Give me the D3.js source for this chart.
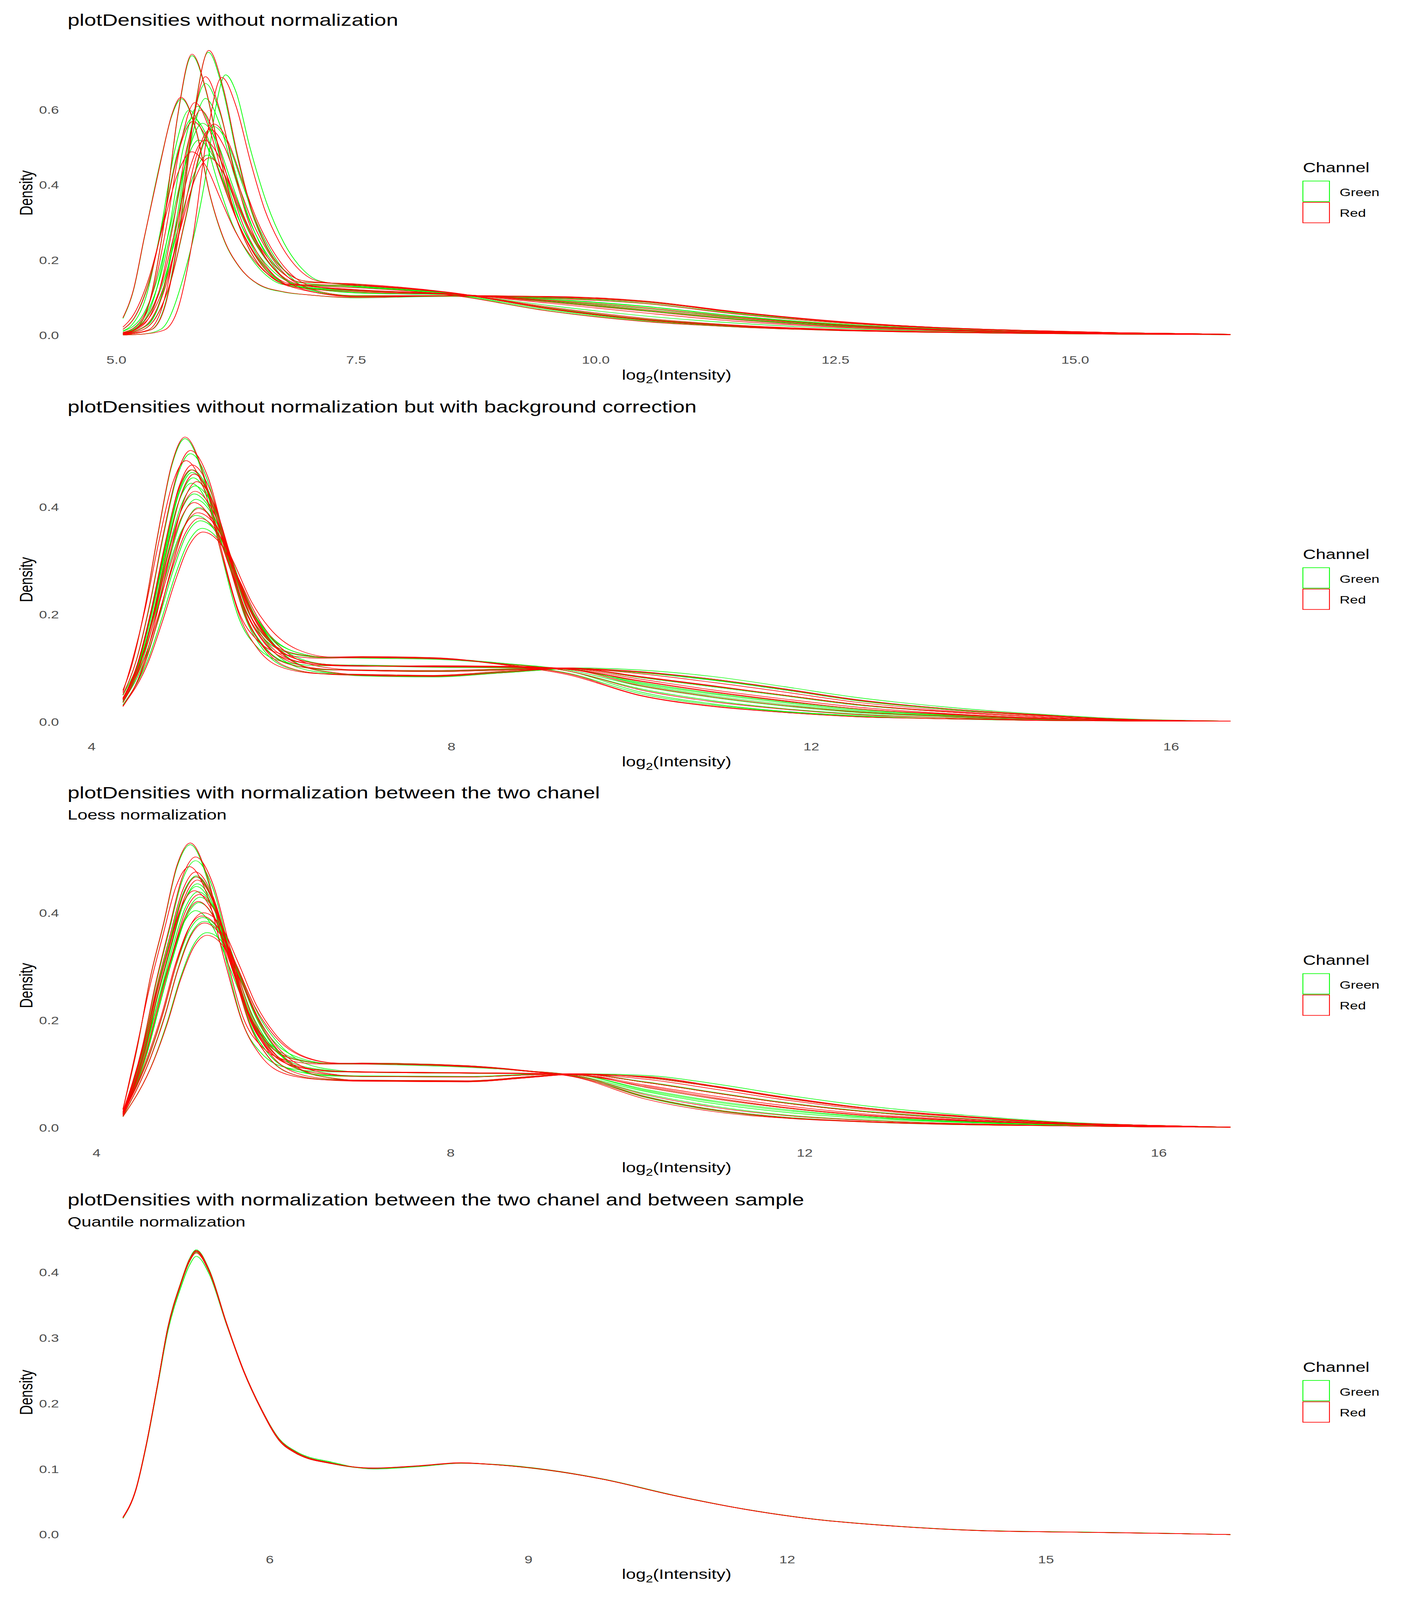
<!DOCTYPE html>
<html>
<head>
<meta charset="utf-8">
<script src="https://cdn.jsdelivr.net/npm/d3@7"></script>
<style>
  html, body { margin: 0; padding: 0; width: 100%; height: 100%; overflow: hidden; background: #fff; }
  #chart { display: block; width: 100vw; height: 100vh; }
  text { font-family: "Liberation Sans", Arial, sans-serif; }
</style>
</head>
<body>
<svg id="chart"></svg>
<script>
// ---- data: each curve is a list of [log2 intensity, density] ----

const channels = ["Green", "Red"];
const channelColors = ["#00FF00", "#FF0000"];

const titles = [
  "plotDensities without normalization",
  "plotDensities without normalization but with background correction",
  "plotDensities with normalization between the two chanel",
  "plotDensities with normalization between the two chanel and between sample"
];
const subtitles = [null, null, "Loess normalization", "Quantile normalization"];

const xTicks = [[5.0, 7.5, 10.0, 12.5, 15.0], [4, 8, 12, 16], [4, 8, 12, 16], [6, 9, 12, 15]];
const yTicks = [[0, 0.2, 0.4, 0.6], [0, 0.2, 0.4], [0, 0.2, 0.4], [0, 0.1, 0.2, 0.3, 0.4]];
const xTickFormats = [".1f", "d", "d", "d"];

// panel 1 : raw
const p1Green = [
  [[5.07,0.002],[5.36,0.015],[5.51,0.083],[5.66,0.287],[5.81,0.588],[5.96,0.754],[6.11,0.656],[6.26,0.478],[6.41,0.330],[6.56,0.238],[6.76,0.171],[6.96,0.145],[7.5,0.135],[8.5,0.112],[9.5,0.072],[10.5,0.042],[11.5,0.025],[12.5,0.015],[13.5,0.009],[14.5,0.006],[15.5,0.004],[16.62,0.002]],
  [[5.07,0.004],[5.19,0.015],[5.34,0.082],[5.49,0.283],[5.64,0.581],[5.79,0.745],[5.94,0.647],[6.09,0.468],[6.24,0.321],[6.39,0.228],[6.59,0.161],[6.79,0.135],[7.5,0.128],[8.5,0.108],[9.5,0.066],[10.5,0.038],[11.5,0.022],[12.5,0.013],[13.5,0.008],[14.5,0.005],[15.5,0.003],[16.62,0.002]],
  [[5.07,0.001],[5.3,0.004],[5.47,0.017],[5.72,0.173],[5.94,0.435],[6.04,0.61],[6.14,0.694],[6.25,0.648],[6.39,0.505],[6.57,0.352],[6.75,0.246],[6.94,0.177],[7.12,0.145],[7.5,0.132],[8.5,0.112],[9.5,0.074],[10.5,0.044],[11.5,0.026],[12.5,0.015],[13.5,0.009],[14.5,0.006],[15.5,0.004],[16.62,0.002]],
  [[5.07,0.004],[5.33,0.030],[5.48,0.114],[5.63,0.309],[5.78,0.550],[5.93,0.671],[6.08,0.594],[6.23,0.445],[6.38,0.316],[6.53,0.230],[6.73,0.157],[6.93,0.126],[7.5,0.118],[8.5,0.110],[9.5,0.090],[10.5,0.066],[11.5,0.042],[12.5,0.025],[13.5,0.015],[14.5,0.009],[15.5,0.005],[16.62,0.002]],
  [[5.07,0.045],[5.18,0.12],[5.29,0.256],[5.47,0.473],[5.58,0.585],[5.68,0.630],[5.83,0.547],[5.98,0.37],[6.13,0.25],[6.28,0.183],[6.48,0.136],[6.75,0.115],[7.0,0.108],[7.5,0.100],[8.5,0.104],[9.5,0.100],[10.5,0.086],[11.5,0.057],[12.5,0.034],[13.5,0.020],[14.5,0.012],[15.5,0.007],[16.62,0.003]],
  [[5.07,0.004],[5.33,0.028],[5.48,0.107],[5.63,0.290],[5.78,0.517],[5.93,0.631],[6.08,0.562],[6.23,0.428],[6.38,0.311],[6.53,0.234],[6.73,0.168],[6.93,0.140],[7.5,0.130],[8.5,0.111],[9.5,0.080],[10.5,0.052],[11.5,0.032],[12.5,0.019],[13.5,0.012],[14.5,0.007],[15.5,0.004],[16.62,0.002]],
  [[5.07,0.016],[5.20,0.052],[5.35,0.151],[5.50,0.318],[5.65,0.498],[5.80,0.579],[5.95,0.529],[6.10,0.418],[6.25,0.313],[6.40,0.235],[6.60,0.166],[6.80,0.134],[7.5,0.120],[8.5,0.109],[9.5,0.093],[10.5,0.072],[11.5,0.047],[12.5,0.028],[13.5,0.016],[14.5,0.009],[15.5,0.005],[16.62,0.002]],
  [[5.07,0.004],[5.27,0.014],[5.42,0.050],[5.57,0.145],[5.72,0.306],[5.87,0.478],[6.02,0.556],[6.17,0.507],[6.32,0.400],[6.47,0.297],[6.62,0.222],[6.82,0.155],[7.02,0.123],[7.5,0.106],[8.5,0.106],[9.5,0.103],[10.5,0.090],[11.5,0.059],[12.5,0.036],[13.5,0.021],[14.5,0.012],[15.5,0.007],[16.62,0.003]],
  [[5.07,0.011],[5.26,0.047],[5.41,0.135],[5.56,0.286],[5.71,0.447],[5.86,0.520],[6.01,0.477],[6.16,0.382],[6.31,0.291],[6.46,0.224],[6.66,0.165],[6.86,0.137],[7.5,0.113],[8.5,0.108],[9.5,0.097],[10.5,0.078],[11.5,0.051],[12.5,0.031],[13.5,0.018],[14.5,0.010],[15.5,0.006],[16.62,0.002]],
  [[5.07,0.006],[5.20,0.019],[5.35,0.058],[5.50,0.149],[5.65,0.288],[5.80,0.422],[5.95,0.480],[6.10,0.440],[6.25,0.352],[6.40,0.268],[6.55,0.206],[6.75,0.152],[6.95,0.126],[7.5,0.104],[8.5,0.104],[9.5,0.101],[10.5,0.089],[11.5,0.060],[12.5,0.037],[13.5,0.022],[14.5,0.013],[15.5,0.007],[16.62,0.003]],
  [[5.07,0.007],[5.25,0.027],[5.40,0.104],[5.55,0.281],[5.70,0.500],[5.85,0.610],[6.00,0.542],[6.15,0.411],[6.30,0.297],[6.45,0.222],[6.65,0.157],[6.85,0.130],[7.5,0.119],[8.5,0.110],[9.5,0.091],[10.5,0.067],[11.5,0.043],[12.5,0.026],[13.5,0.015],[14.5,0.009],[15.5,0.005],[16.62,0.002]],
  [[5.07,0.008],[5.15,0.014],[5.30,0.051],[5.45,0.147],[5.60,0.311],[5.75,0.486],[5.90,0.565],[6.05,0.516],[6.20,0.409],[6.35,0.306],[6.50,0.230],[6.70,0.163],[6.90,0.131],[7.5,0.114],[8.5,0.108],[9.5,0.096],[10.5,0.077],[11.5,0.050],[12.5,0.030],[13.5,0.018],[14.5,0.010],[15.5,0.006],[16.62,0.002]],
  [[5.07,0.012],[5.16,0.027],[5.31,0.102],[5.46,0.276],[5.61,0.492],[5.76,0.600],[5.91,0.534],[6.06,0.407],[6.21,0.297],[6.36,0.224],[6.56,0.161],[6.76,0.135],[7.5,0.131],[8.5,0.110],[9.5,0.069],[10.5,0.040],[11.5,0.023],[12.5,0.014],[13.5,0.008],[14.5,0.005],[15.5,0.003],[16.62,0.002]]
];
const p1Red = [
  [[5.07,0.002],[5.365,0.015],[5.515,0.083],[5.665,0.288],[5.815,0.592],[5.965,0.759],[6.115,0.660],[6.265,0.480],[6.415,0.332],[6.565,0.239],[6.765,0.171],[6.965,0.145],[7.5,0.136],[8.5,0.113],[9.5,0.071],[10.5,0.041],[11.5,0.024],[12.5,0.014],[13.5,0.009],[14.5,0.006],[15.5,0.004],[16.62,0.002]],
  [[5.07,0.004],[5.19,0.015],[5.34,0.082],[5.49,0.285],[5.64,0.584],[5.79,0.749],[5.94,0.650],[6.09,0.470],[6.24,0.322],[6.39,0.229],[6.59,0.161],[6.79,0.135],[7.5,0.127],[8.5,0.107],[9.5,0.065],[10.5,0.037],[11.5,0.022],[12.5,0.013],[13.5,0.008],[14.5,0.005],[15.5,0.003],[16.62,0.002]],
  [[5.07,0.001],[5.3,0.004],[5.50,0.014],[5.65,0.076],[5.80,0.261],[5.95,0.536],[6.10,0.687],[6.25,0.610],[6.40,0.463],[6.55,0.334],[6.70,0.249],[6.90,0.177],[7.10,0.145],[7.5,0.134],[8.5,0.113],[9.5,0.076],[10.5,0.046],[11.5,0.027],[12.5,0.016],[13.5,0.010],[14.5,0.006],[15.5,0.004],[16.62,0.002]],
  [[5.07,0.003],[5.33,0.014],[5.48,0.076],[5.63,0.262],[5.78,0.537],[5.93,0.689],[6.08,0.600],[6.23,0.437],[6.38,0.303],[6.53,0.219],[6.73,0.158],[6.93,0.134],[7.5,0.121],[8.5,0.111],[9.5,0.089],[10.5,0.065],[11.5,0.041],[12.5,0.024],[13.5,0.015],[14.5,0.009],[15.5,0.005],[16.62,0.002]],
  [[5.07,0.047],[5.18,0.122],[5.29,0.258],[5.47,0.470],[5.58,0.588],[5.676,0.634],[5.83,0.550],[5.98,0.372],[6.13,0.252],[6.28,0.184],[6.48,0.137],[6.75,0.116],[7.0,0.108],[7.5,0.101],[8.5,0.105],[9.5,0.099],[10.5,0.085],[11.5,0.056],[12.5,0.034],[13.5,0.020],[14.5,0.012],[15.5,0.007],[16.62,0.003]],
  [[5.07,0.008],[5.22,0.028],[5.37,0.105],[5.52,0.285],[5.67,0.508],[5.82,0.620],[5.97,0.551],[6.12,0.417],[6.27,0.301],[6.42,0.224],[6.62,0.158],[6.82,0.130],[7.5,0.116],[8.5,0.109],[9.5,0.094],[10.5,0.074],[11.5,0.048],[12.5,0.029],[13.5,0.017],[14.5,0.010],[15.5,0.006],[16.62,0.002]],
  [[5.07,0.004],[5.27,0.014],[5.42,0.051],[5.57,0.146],[5.72,0.310],[5.87,0.484],[6.02,0.563],[6.17,0.514],[6.32,0.408],[6.47,0.306],[6.62,0.231],[6.82,0.164],[7.02,0.133],[7.5,0.119],[8.5,0.110],[9.5,0.092],[10.5,0.069],[11.5,0.045],[12.5,0.027],[13.5,0.016],[14.5,0.009],[15.5,0.005],[16.62,0.002]],
  [[5.07,0.005],[5.23,0.014],[5.38,0.049],[5.53,0.143],[5.68,0.302],[5.83,0.472],[5.98,0.549],[6.13,0.501],[6.28,0.397],[6.43,0.297],[6.58,0.224],[6.78,0.158],[6.98,0.128],[7.5,0.105],[8.5,0.106],[9.5,0.103],[10.5,0.091],[11.5,0.061],[12.5,0.037],[13.5,0.022],[14.5,0.013],[15.5,0.007],[16.62,0.003]],
  [[5.07,0.022],[5.19,0.059],[5.34,0.152],[5.49,0.293],[5.64,0.430],[5.79,0.489],[5.94,0.449],[6.09,0.362],[6.24,0.278],[6.39,0.216],[6.59,0.161],[6.79,0.136],[7.5,0.133],[8.5,0.113],[9.5,0.072],[10.5,0.043],[11.5,0.025],[12.5,0.015],[13.5,0.009],[14.5,0.006],[15.5,0.004],[16.62,0.002]],
  [[5.07,0.005],[5.22,0.019],[5.37,0.057],[5.52,0.147],[5.67,0.284],[5.82,0.416],[5.97,0.473],[6.12,0.433],[6.27,0.346],[6.42,0.262],[6.57,0.201],[6.77,0.146],[6.97,0.121],[7.5,0.103],[8.5,0.105],[9.5,0.104],[10.5,0.092],[11.5,0.062],[12.5,0.038],[13.5,0.022],[14.5,0.013],[15.5,0.007],[16.62,0.003]],
  [[5.07,0.005],[5.28,0.027],[5.43,0.102],[5.58,0.276],[5.73,0.492],[5.88,0.600],[6.03,0.533],[6.18,0.403],[6.33,0.290],[6.48,0.216],[6.68,0.152],[6.88,0.125],[7.5,0.105],[8.5,0.106],[9.5,0.102],[10.5,0.089],[11.5,0.060],[12.5,0.036],[13.5,0.021],[14.5,0.012],[15.5,0.007],[16.62,0.003]],
  [[5.07,0.016],[5.20,0.051],[5.35,0.148],[5.50,0.314],[5.65,0.490],[5.80,0.570],[5.95,0.521],[6.10,0.414],[6.25,0.312],[6.40,0.236],[6.60,0.170],[6.80,0.138],[7.5,0.122],[8.5,0.110],[9.5,0.086],[10.5,0.060],[11.5,0.037],[12.5,0.022],[13.5,0.013],[14.5,0.008],[15.5,0.005],[16.62,0.002]],
  [[5.07,0.007],[5.17,0.013],[5.32,0.047],[5.47,0.135],[5.62,0.286],[5.77,0.447],[5.92,0.520],[6.07,0.477],[6.22,0.384],[6.37,0.294],[6.52,0.228],[6.72,0.169],[6.92,0.142],[7.5,0.137],[8.5,0.114],[9.5,0.073],[10.5,0.043],[11.5,0.025],[12.5,0.015],[13.5,0.009],[14.5,0.006],[15.5,0.004],[16.62,0.002]]
];

// panel 2 : background corrected
const p2Green = [
  [[4.35,0.059],[4.44,0.101],[4.59,0.209],[4.74,0.350],[4.89,0.476],[5.04,0.528],[5.24,0.460],[5.44,0.316],[5.64,0.193],[5.84,0.140],[6.14,0.112],[6.54,0.105],[7.0,0.105],[7.8,0.103],[8.6,0.102],[9.3,0.099],[10.1,0.074],[10.9,0.054],[11.7,0.038],[12.5,0.024],[13.5,0.014],[14.5,0.007],[15.5,0.003],[16.66,0.0016]],
  [[4.35,0.051],[4.50,0.115],[4.65,0.219],[4.80,0.347],[4.95,0.456],[5.10,0.500],[5.30,0.446],[5.50,0.319],[5.70,0.199],[5.90,0.137],[6.20,0.100],[6.60,0.090],[7.0,0.088],[7.8,0.086],[8.6,0.094],[9.3,0.100],[10.1,0.092],[10.9,0.078],[11.7,0.060],[12.5,0.040],[13.5,0.024],[14.5,0.013],[15.5,0.005],[16.66,0.0017]],
  [[4.35,0.042],[4.52,0.108],[4.67,0.206],[4.82,0.326],[4.97,0.429],[5.12,0.470],[5.32,0.424],[5.52,0.315],[5.72,0.213],[5.92,0.160],[6.22,0.129],[6.62,0.120],[7.0,0.121],[7.8,0.119],[8.6,0.109],[9.3,0.095],[10.1,0.062],[10.9,0.040],[11.7,0.025],[12.5,0.015],[13.5,0.008],[14.5,0.004],[15.5,0.002],[16.66,0.0015]],
  [[4.35,0.038],[4.53,0.105],[4.68,0.199],[4.83,0.315],[4.98,0.415],[5.13,0.455],[5.33,0.408],[5.53,0.297],[5.73,0.193],[5.93,0.139],[6.23,0.107],[6.63,0.097],[7.0,0.097],[7.8,0.095],[8.6,0.098],[9.3,0.100],[10.1,0.083],[10.9,0.066],[11.7,0.049],[12.5,0.032],[13.5,0.019],[14.5,0.010],[15.5,0.004],[16.66,0.0016]],
  [[4.35,0.043],[4.55,0.118],[4.70,0.210],[4.85,0.317],[5.00,0.405],[5.15,0.440],[5.35,0.403],[5.55,0.309],[5.75,0.215],[5.95,0.158],[6.25,0.119],[6.65,0.107],[7.0,0.105],[7.8,0.102],[8.6,0.101],[9.3,0.099],[10.1,0.070],[10.9,0.049],[11.7,0.033],[12.5,0.020],[13.5,0.012],[14.5,0.006],[15.5,0.003],[16.66,0.0016]],
  [[4.35,0.043],[4.54,0.114],[4.69,0.203],[4.84,0.306],[4.99,0.391],[5.14,0.425],[5.34,0.391],[5.54,0.305],[5.74,0.219],[5.94,0.167],[6.24,0.132],[6.64,0.120],[7.0,0.119],[7.8,0.117],[8.6,0.108],[9.3,0.095],[10.1,0.056],[10.9,0.034],[11.7,0.020],[12.5,0.012],[13.5,0.006],[14.5,0.003],[15.5,0.002],[16.66,0.0015]],
  [[4.35,0.030],[4.59,0.107],[4.74,0.191],[4.89,0.288],[5.04,0.368],[5.19,0.400],[5.39,0.366],[5.59,0.278],[5.79,0.191],[5.99,0.138],[6.29,0.102],[6.69,0.090],[7.0,0.086],[7.8,0.084],[8.6,0.092],[9.3,0.099],[10.1,0.093],[10.9,0.079],[11.7,0.061],[12.5,0.041],[13.5,0.024],[14.5,0.013],[15.5,0.005],[16.66,0.0017]],
  [[4.35,0.050],[4.56,0.125],[4.71,0.204],[4.86,0.291],[5.01,0.359],[5.16,0.385],[5.36,0.360],[5.56,0.289],[5.76,0.214],[5.96,0.163],[6.26,0.122],[6.66,0.107],[7.0,0.106],[7.8,0.104],[8.6,0.102],[9.3,0.098],[10.1,0.072],[10.9,0.052],[11.7,0.036],[12.5,0.022],[13.5,0.013],[14.5,0.007],[15.5,0.003],[16.66,0.0016]],
  [[4.35,0.032],[4.63,0.117],[4.78,0.192],[4.93,0.273],[5.08,0.336],[5.23,0.361],[5.43,0.336],[5.63,0.268],[5.83,0.194],[6.03,0.145],[6.33,0.106],[6.73,0.091],[7.0,0.088],[7.8,0.085],[8.6,0.093],[9.3,0.101],[10.1,0.097],[10.9,0.085],[11.7,0.066],[12.5,0.046],[13.5,0.028],[14.5,0.015],[15.5,0.006],[16.66,0.0017]],
  [[4.35,0.042],[4.51,0.102],[4.66,0.195],[4.81,0.308],[4.96,0.406],[5.11,0.445],[5.31,0.402],[5.51,0.301],[5.71,0.206],[5.91,0.157],[6.21,0.128],[6.61,0.120],[7.0,0.120],[7.8,0.118],[8.6,0.109],[9.3,0.097],[10.1,0.067],[10.9,0.046],[11.7,0.030],[12.5,0.018],[13.5,0.010],[14.5,0.005],[15.5,0.002],[16.66,0.0015]],
  [[4.35,0.042],[4.52,0.107],[4.67,0.204],[4.82,0.322],[4.97,0.424],[5.12,0.465],[5.32,0.417],[5.52,0.303],[5.72,0.196],[5.92,0.140],[6.22,0.107],[6.62,0.098],[7.0,0.097],[7.8,0.095],[8.6,0.098],[9.3,0.100],[10.1,0.083],[10.9,0.066],[11.7,0.049],[12.5,0.032],[13.5,0.019],[14.5,0.010],[15.5,0.004],[16.66,0.0016]],
  [[4.35,0.038],[4.56,0.111],[4.71,0.198],[4.86,0.299],[5.01,0.382],[5.16,0.415],[5.36,0.382],[5.56,0.299],[5.76,0.216],[5.96,0.166],[6.26,0.131],[6.66,0.120],[7.0,0.121],[7.8,0.119],[8.6,0.107],[9.3,0.091],[10.1,0.053],[10.9,0.032],[11.7,0.019],[12.5,0.011],[13.5,0.006],[14.5,0.003],[15.5,0.002],[16.66,0.0015]],
  [[4.35,0.037],[4.61,0.122],[4.76,0.199],[4.91,0.283],[5.06,0.350],[5.21,0.375],[5.41,0.349],[5.61,0.277],[5.81,0.200],[6.01,0.148],[6.31,0.107],[6.71,0.091],[7.0,0.087],[7.8,0.085],[8.6,0.092],[9.3,0.099],[10.1,0.092],[10.9,0.079],[11.7,0.060],[12.5,0.041],[13.5,0.024],[14.5,0.013],[15.5,0.005],[16.66,0.0017]]
];
const p2Red = [
  [[4.35,0.059],[4.44,0.101],[4.59,0.210],[4.74,0.352],[4.89,0.479],[5.04,0.531],[5.24,0.465],[5.44,0.325],[5.64,0.205],[5.84,0.153],[6.14,0.126],[6.54,0.119],[7.0,0.120],[7.8,0.118],[8.6,0.108],[9.3,0.095],[10.1,0.060],[10.9,0.038],[11.7,0.024],[12.5,0.014],[13.5,0.008],[14.5,0.004],[15.5,0.002],[16.66,0.0015]],
  [[4.35,0.051],[4.50,0.116],[4.65,0.222],[4.80,0.351],[4.95,0.461],[5.10,0.506],[5.30,0.454],[5.50,0.329],[5.70,0.213],[5.90,0.152],[6.20,0.116],[6.60,0.106],[7.0,0.104],[7.8,0.104],[8.6,0.103],[9.3,0.098],[10.1,0.076],[10.9,0.056],[11.7,0.039],[12.5,0.025],[13.5,0.014],[14.5,0.007],[15.5,0.003],[16.66,0.0016]],
  [[4.35,0.055],[4.45,0.112],[4.60,0.213],[4.75,0.337],[4.90,0.444],[5.05,0.487],[5.25,0.435],[5.45,0.311],[5.65,0.196],[5.85,0.136],[6.15,0.100],[6.55,0.090],[7.0,0.089],[7.8,0.087],[8.6,0.095],[9.3,0.100],[10.1,0.090],[10.9,0.074],[11.7,0.056],[12.5,0.037],[13.5,0.022],[14.5,0.012],[15.5,0.005],[16.66,0.0017]],
  [[4.35,0.043],[4.52,0.110],[4.67,0.210],[4.82,0.332],[4.97,0.437],[5.12,0.479],[5.32,0.432],[5.52,0.320],[5.72,0.215],[5.92,0.161],[6.22,0.129],[6.62,0.121],[7.0,0.122],[7.8,0.120],[8.6,0.107],[9.3,0.090],[10.1,0.050],[10.9,0.030],[11.7,0.018],[12.5,0.010],[13.5,0.006],[14.5,0.003],[15.5,0.002],[16.66,0.0015]],
  [[4.35,0.036],[4.54,0.106],[4.69,0.202],[4.84,0.320],[4.99,0.421],[5.14,0.462],[5.34,0.413],[5.54,0.297],[5.74,0.189],[5.94,0.133],[6.24,0.099],[6.64,0.089],[7.0,0.087],[7.8,0.085],[8.6,0.093],[9.3,0.100],[10.1,0.094],[10.9,0.080],[11.7,0.062],[12.5,0.042],[13.5,0.025],[14.5,0.014],[15.5,0.005],[16.66,0.0017]],
  [[4.35,0.029],[4.57,0.103],[4.72,0.196],[4.87,0.310],[5.02,0.409],[5.17,0.448],[5.37,0.403],[5.57,0.297],[5.77,0.197],[5.97,0.145],[6.27,0.114],[6.67,0.105],[7.0,0.104],[7.8,0.105],[8.6,0.104],[9.3,0.099],[10.1,0.077],[10.9,0.057],[11.7,0.040],[12.5,0.025],[13.5,0.015],[14.5,0.008],[15.5,0.003],[16.66,0.0016]],
  [[4.35,0.042],[4.54,0.110],[4.69,0.195],[4.84,0.294],[4.99,0.377],[5.14,0.409],[5.34,0.375],[5.54,0.287],[5.74,0.199],[5.94,0.146],[6.24,0.110],[6.64,0.098],[7.0,0.096],[7.8,0.094],[8.6,0.097],[9.3,0.100],[10.1,0.084],[10.9,0.067],[11.7,0.050],[12.5,0.033],[13.5,0.019],[14.5,0.010],[15.5,0.004],[16.66,0.0016]],
  [[4.35,0.045],[4.58,0.127],[4.73,0.207],[4.88,0.294],[5.03,0.363],[5.18,0.390],[5.38,0.366],[5.58,0.298],[5.78,0.224],[5.98,0.175],[6.28,0.136],[6.68,0.121],[7.0,0.121],[7.8,0.119],[8.6,0.106],[9.3,0.088],[10.1,0.049],[10.9,0.029],[11.7,0.018],[12.5,0.010],[13.5,0.006],[14.5,0.003],[15.5,0.002],[16.66,0.0015]],
  [[4.35,0.030],[4.64,0.115],[4.79,0.188],[4.94,0.267],[5.09,0.330],[5.24,0.354],[5.44,0.331],[5.64,0.266],[5.84,0.197],[6.04,0.150],[6.34,0.113],[6.74,0.099],[7.0,0.097],[7.8,0.096],[8.6,0.099],[9.3,0.101],[10.1,0.085],[10.9,0.068],[11.7,0.050],[12.5,0.033],[13.5,0.020],[14.5,0.010],[15.5,0.004],[16.66,0.0016]],
  [[4.35,0.030],[4.59,0.107],[4.74,0.190],[4.89,0.287],[5.04,0.367],[5.19,0.398],[5.39,0.366],[5.59,0.283],[5.79,0.201],[5.99,0.151],[6.29,0.117],[6.69,0.106],[7.0,0.105],[7.8,0.103],[8.6,0.103],[9.3,0.100],[10.1,0.080],[10.9,0.060],[11.7,0.043],[12.5,0.028],[13.5,0.016],[14.5,0.008],[15.5,0.003],[16.66,0.0016]],
  [[4.35,0.044],[4.51,0.108],[4.66,0.206],[4.81,0.326],[4.96,0.429],[5.11,0.470],[5.31,0.421],[5.51,0.305],[5.71,0.197],[5.91,0.141],[6.21,0.107],[6.61,0.098],[7.0,0.096],[7.8,0.094],[8.6,0.097],[9.3,0.100],[10.1,0.084],[10.9,0.067],[11.7,0.050],[12.5,0.033],[13.5,0.019],[14.5,0.010],[15.5,0.004],[16.66,0.0016]],
  [[4.35,0.042],[4.55,0.115],[4.70,0.205],[4.85,0.310],[5.00,0.396],[5.15,0.430],[5.35,0.394],[5.55,0.303],[5.75,0.212],[5.95,0.156],[6.25,0.119],[6.65,0.107],[7.0,0.105],[7.8,0.103],[8.6,0.102],[9.3,0.098],[10.1,0.068],[10.9,0.047],[11.7,0.031],[12.5,0.019],[13.5,0.011],[14.5,0.006],[15.5,0.003],[16.66,0.0016]],
  [[4.35,0.040],[4.60,0.124],[4.75,0.202],[4.90,0.287],[5.05,0.354],[5.20,0.380],[5.40,0.354],[5.60,0.281],[5.80,0.202],[6.00,0.149],[6.30,0.107],[6.70,0.092],[7.0,0.088],[7.8,0.086],[8.6,0.093],[9.3,0.100],[10.1,0.093],[10.9,0.080],[11.7,0.061],[12.5,0.041],[13.5,0.025],[14.5,0.013],[15.5,0.005],[16.66,0.0017]]
];

// panel 3 : loess
const p3Green = [
  [[4.30,0.035],[4.46,0.148],[4.61,0.280],[4.76,0.380],[4.91,0.486],[5.06,0.528],[5.26,0.460],[5.46,0.316],[5.66,0.193],[5.86,0.140],[6.16,0.112],[6.56,0.105],[7.0,0.104],[8.2,0.102],[8.9,0.101],[9.4,0.100],[10.2,0.076],[11.0,0.054],[11.8,0.037],[12.7,0.023],[13.8,0.013],[14.9,0.007],[15.9,0.003],[16.81,0.0015]],
  [[4.30,0.030],[4.52,0.149],[4.67,0.266],[4.82,0.366],[4.97,0.461],[5.12,0.498],[5.32,0.445],[5.52,0.318],[5.72,0.199],[5.92,0.137],[6.22,0.100],[6.62,0.090],[7.0,0.089],[8.2,0.088],[8.9,0.096],[9.4,0.101],[10.2,0.094],[11.0,0.076],[11.8,0.055],[12.7,0.036],[13.8,0.021],[14.9,0.010],[15.9,0.005],[16.81,0.0015]],
  [[4.30,0.028],[4.52,0.140],[4.67,0.250],[4.82,0.344],[4.97,0.433],[5.12,0.468],[5.32,0.423],[5.52,0.314],[5.72,0.213],[5.92,0.160],[6.22,0.129],[6.62,0.120],[7.0,0.120],[8.2,0.115],[8.9,0.105],[9.4,0.097],[10.2,0.064],[11.0,0.040],[11.8,0.024],[12.7,0.015],[13.8,0.008],[14.9,0.004],[15.9,0.002],[16.81,0.0015]],
  [[4.30,0.026],[4.54,0.137],[4.69,0.243],[4.84,0.334],[4.99,0.421],[5.14,0.455],[5.34,0.408],[5.54,0.297],[5.74,0.193],[5.94,0.139],[6.24,0.107],[6.64,0.097],[7.0,0.096],[8.2,0.095],[8.9,0.099],[9.4,0.101],[10.2,0.085],[11.0,0.065],[11.8,0.046],[12.7,0.030],[13.8,0.017],[14.9,0.008],[15.9,0.004],[16.81,0.0015]],
  [[4.30,0.026],[4.55,0.141],[4.70,0.238],[4.85,0.330],[5.00,0.409],[5.15,0.440],[5.35,0.403],[5.55,0.309],[5.75,0.215],[5.95,0.158],[6.25,0.119],[6.65,0.107],[7.0,0.104],[8.2,0.102],[8.9,0.101],[9.4,0.099],[10.2,0.072],[11.0,0.050],[11.8,0.034],[12.7,0.021],[13.8,0.012],[14.9,0.006],[15.9,0.003],[16.81,0.0015]],
  [[4.30,0.025],[4.52,0.130],[4.67,0.219],[4.82,0.304],[4.97,0.377],[5.12,0.405],[5.32,0.373],[5.52,0.293],[5.72,0.213],[5.92,0.164],[6.22,0.131],[6.62,0.120],[7.0,0.119],[8.2,0.113],[8.9,0.106],[9.4,0.098],[10.2,0.059],[11.0,0.034],[11.8,0.020],[12.7,0.012],[13.8,0.007],[14.9,0.004],[15.9,0.002],[16.81,0.0015]],
  [[4.30,0.025],[4.56,0.134],[4.71,0.227],[4.86,0.315],[5.01,0.391],[5.16,0.420],[5.36,0.384],[5.56,0.294],[5.76,0.203],[5.96,0.148],[6.26,0.111],[6.66,0.099],[7.0,0.097],[8.2,0.096],[8.9,0.100],[9.4,0.101],[10.2,0.086],[11.0,0.066],[11.8,0.047],[12.7,0.031],[13.8,0.018],[14.9,0.008],[15.9,0.004],[16.81,0.0015]],
  [[4.30,0.027],[4.60,0.137],[4.75,0.212],[4.90,0.302],[5.05,0.368],[5.20,0.392],[5.40,0.365],[5.60,0.289],[5.80,0.207],[6.00,0.152],[6.30,0.108],[6.70,0.092],[7.0,0.088],[8.2,0.087],[8.9,0.095],[9.4,0.101],[10.2,0.098],[11.0,0.082],[11.8,0.061],[12.7,0.041],[13.8,0.024],[14.9,0.011],[15.9,0.005],[16.81,0.0015]],
  [[4.30,0.021],[4.65,0.127],[4.80,0.197],[4.95,0.280],[5.10,0.342],[5.25,0.364],[5.45,0.341],[5.65,0.276],[5.85,0.205],[6.05,0.159],[6.35,0.121],[6.75,0.107],[7.0,0.104],[8.2,0.102],[8.9,0.101],[9.4,0.099],[10.2,0.070],[11.0,0.048],[11.8,0.032],[12.7,0.020],[13.8,0.011],[14.9,0.006],[15.9,0.003],[16.81,0.0015]],
  [[4.30,0.027],[4.53,0.135],[4.68,0.241],[4.83,0.331],[4.98,0.416],[5.13,0.450],[5.33,0.407],[5.53,0.304],[5.73,0.208],[5.93,0.158],[6.23,0.128],[6.63,0.120],[7.0,0.121],[8.2,0.116],[8.9,0.106],[9.4,0.098],[10.2,0.068],[11.0,0.045],[11.8,0.029],[12.7,0.018],[13.8,0.010],[14.9,0.005],[15.9,0.002],[16.81,0.0015]],
  [[4.30,0.028],[4.53,0.141],[4.68,0.251],[4.83,0.345],[4.98,0.435],[5.13,0.470],[5.33,0.421],[5.53,0.305],[5.73,0.197],[5.93,0.141],[6.23,0.107],[6.63,0.098],[7.0,0.096],[8.2,0.095],[8.9,0.099],[9.4,0.101],[10.2,0.085],[11.0,0.065],[11.8,0.046],[12.7,0.030],[13.8,0.017],[14.9,0.008],[15.9,0.004],[16.81,0.0015]],
  [[4.30,0.025],[4.57,0.138],[4.72,0.232],[4.87,0.323],[5.02,0.400],[5.17,0.430],[5.37,0.396],[5.57,0.308],[5.77,0.221],[5.97,0.168],[6.27,0.132],[6.67,0.120],[7.0,0.120],[8.2,0.114],[8.9,0.105],[9.4,0.096],[10.2,0.057],[11.0,0.032],[11.8,0.019],[12.7,0.011],[13.8,0.006],[14.9,0.004],[15.9,0.002],[16.81,0.0015]],
  [[4.30,0.022],[4.62,0.135],[4.77,0.208],[4.92,0.296],[5.07,0.362],[5.22,0.385],[5.42,0.358],[5.62,0.284],[5.82,0.204],[6.02,0.150],[6.32,0.107],[6.72,0.092],[7.0,0.088],[8.2,0.087],[8.9,0.095],[9.4,0.100],[10.2,0.095],[11.0,0.077],[11.8,0.056],[12.7,0.037],[13.8,0.021],[14.9,0.010],[15.9,0.005],[16.81,0.0015]]
];
const p3Red = [
  [[4.30,0.035],[4.46,0.149],[4.61,0.281],[4.76,0.382],[4.91,0.489],[5.06,0.531],[5.26,0.465],[5.46,0.325],[5.66,0.205],[5.86,0.153],[6.16,0.126],[6.56,0.119],[7.0,0.119],[8.2,0.114],[8.9,0.106],[9.4,0.098],[10.2,0.062],[11.0,0.038],[11.8,0.023],[12.7,0.014],[13.8,0.008],[14.9,0.004],[15.9,0.002],[16.81,0.0015]],
  [[4.30,0.031],[4.52,0.152],[4.67,0.270],[4.82,0.371],[4.97,0.467],[5.12,0.505],[5.32,0.453],[5.52,0.329],[5.72,0.212],[5.92,0.152],[6.22,0.116],[6.62,0.106],[7.0,0.104],[8.2,0.103],[8.9,0.102],[9.4,0.099],[10.2,0.078],[11.0,0.056],[11.8,0.038],[12.7,0.024],[13.8,0.014],[14.9,0.007],[15.9,0.003],[16.81,0.0015]],
  [[4.30,0.034],[4.45,0.146],[4.60,0.261],[4.75,0.358],[4.90,0.450],[5.05,0.487],[5.25,0.435],[5.45,0.311],[5.65,0.196],[5.85,0.136],[6.15,0.100],[6.55,0.090],[7.0,0.088],[8.2,0.087],[8.9,0.095],[9.4,0.100],[10.2,0.095],[11.0,0.077],[11.8,0.056],[12.7,0.037],[13.8,0.021],[14.9,0.010],[15.9,0.005],[16.81,0.0015]],
  [[4.30,0.029],[4.52,0.143],[4.67,0.255],[4.82,0.351],[4.97,0.441],[5.12,0.477],[5.32,0.430],[5.52,0.319],[5.72,0.215],[5.92,0.161],[6.22,0.129],[6.62,0.120],[7.0,0.121],[8.2,0.116],[8.9,0.106],[9.4,0.095],[10.2,0.054],[11.0,0.030],[11.8,0.018],[12.7,0.011],[13.8,0.006],[14.9,0.004],[15.9,0.002],[16.81,0.0015]],
  [[4.30,0.027],[4.54,0.139],[4.69,0.247],[4.84,0.340],[4.99,0.427],[5.14,0.462],[5.34,0.413],[5.54,0.297],[5.74,0.189],[5.94,0.133],[6.24,0.099],[6.64,0.089],[7.0,0.087],[8.2,0.086],[8.9,0.094],[9.4,0.100],[10.2,0.091],[11.0,0.072],[11.8,0.052],[12.7,0.034],[13.8,0.020],[14.9,0.009],[15.9,0.004],[16.81,0.0015]],
  [[4.30,0.028],[4.505,0.137],[4.655,0.238],[4.805,0.327],[4.955,0.410],[5.105,0.442],[5.305,0.405],[5.505,0.310],[5.705,0.216],[5.905,0.158],[6.205,0.119],[6.605,0.107],[7.0,0.105],[8.2,0.103],[8.9,0.101],[9.4,0.100],[10.2,0.080],[11.0,0.059],[11.8,0.041],[12.7,0.026],[13.8,0.015],[14.9,0.007],[15.9,0.003],[16.81,0.0015]],
  [[4.30,0.025],[4.55,0.135],[4.70,0.228],[4.85,0.317],[5.00,0.392],[5.15,0.422],[5.35,0.385],[5.55,0.292],[5.75,0.198],[5.95,0.141],[6.25,0.103],[6.65,0.091],[7.0,0.089],[8.2,0.088],[8.9,0.096],[9.4,0.101],[10.2,0.094],[11.0,0.076],[11.8,0.055],[12.7,0.036],[13.8,0.021],[14.9,0.010],[15.9,0.005],[16.81,0.0015]],
  [[4.30,0.026],[4.61,0.140],[4.76,0.217],[4.91,0.309],[5.06,0.377],[5.21,0.401],[5.41,0.376],[5.61,0.305],[5.81,0.228],[6.01,0.177],[6.31,0.136],[6.71,0.121],[7.0,0.120],[8.2,0.115],[8.9,0.105],[9.4,0.096],[10.2,0.058],[11.0,0.033],[11.8,0.019],[12.7,0.012],[13.8,0.007],[14.9,0.004],[15.9,0.002],[16.81,0.0015]],
  [[4.30,0.023],[4.62,0.134],[4.77,0.206],[4.92,0.294],[5.07,0.359],[5.22,0.382],[5.42,0.356],[5.62,0.285],[5.82,0.208],[6.02,0.156],[6.32,0.115],[6.72,0.099],[7.0,0.096],[8.2,0.095],[8.9,0.099],[9.4,0.101],[10.2,0.085],[11.0,0.065],[11.8,0.046],[12.7,0.030],[13.8,0.017],[14.9,0.008],[15.9,0.004],[16.81,0.0015]],
  [[4.30,0.021],[4.65,0.126],[4.80,0.194],[4.95,0.276],[5.10,0.337],[5.25,0.359],[5.45,0.335],[5.65,0.267],[5.85,0.194],[6.05,0.145],[6.35,0.106],[6.75,0.091],[7.0,0.088],[8.2,0.086],[8.9,0.094],[9.4,0.100],[10.2,0.096],[11.0,0.078],[11.8,0.057],[12.7,0.037],[13.8,0.022],[14.9,0.010],[15.9,0.005],[16.81,0.0015]],
  [[4.30,0.028],[4.53,0.140],[4.68,0.250],[4.83,0.344],[4.98,0.433],[5.13,0.468],[5.33,0.421],[5.53,0.308],[5.73,0.202],[5.93,0.148],[6.23,0.115],[6.63,0.106],[7.0,0.104],[8.2,0.102],[8.9,0.101],[9.4,0.100],[10.2,0.076],[11.0,0.054],[11.8,0.037],[12.7,0.023],[13.8,0.013],[14.9,0.007],[15.9,0.003],[16.81,0.0015]],
  [[4.30,0.026],[4.56,0.139],[4.71,0.235],[4.86,0.326],[5.01,0.405],[5.16,0.435],[5.36,0.398],[5.56,0.303],[5.76,0.208],[5.96,0.150],[6.26,0.111],[6.66,0.099],[7.0,0.096],[8.2,0.095],[8.9,0.099],[9.4,0.101],[10.2,0.085],[11.0,0.065],[11.8,0.046],[12.7,0.030],[13.8,0.017],[14.9,0.008],[15.9,0.004],[16.81,0.0015]],
  [[4.30,0.024],[4.59,0.138],[4.74,0.213],[4.89,0.304],[5.04,0.371],[5.19,0.395],[5.39,0.370],[5.59,0.301],[5.79,0.226],[5.99,0.176],[6.29,0.136],[6.69,0.121],[7.0,0.120],[8.2,0.115],[8.9,0.105],[9.4,0.096],[10.2,0.058],[11.0,0.033],[11.8,0.019],[12.7,0.012],[13.8,0.007],[14.9,0.004],[15.9,0.002],[16.81,0.0015]]
];

// panel 4 : quantile, curves almost on top of each other (shared x grid)
const p4X = [4.30, 4.45, 4.57, 4.70, 4.82, 4.97, 5.07, 5.15, 5.30, 5.50, 5.70, 5.91, 6.11, 6.31, 6.72, 7.20, 7.73, 8.22, 8.62, 9.22, 9.86, 10.69, 11.51, 12.33, 13.16, 14.26, 15.36, 16.45, 17.14];
const p4Green = [
  [0.026,0.069,0.137,0.228,0.315,0.383,0.418,0.433,0.403,0.323,0.250,0.190,0.145,0.125,0.109,0.1016,0.105,0.1096,0.107,0.099,0.085,0.060,0.039,0.0235,0.014,0.0063,0.004,0.002,0.0003],
  [0.026,0.070,0.138,0.229,0.317,0.385,0.421,0.435,0.405,0.324,0.251,0.191,0.146,0.126,0.110,0.1012,0.1045,0.1093,0.1075,0.0995,0.0855,0.0605,0.0392,0.0237,0.0142,0.0065,0.0042,0.0021,0.0003],
  [0.025,0.068,0.135,0.225,0.310,0.377,0.411,0.425,0.398,0.321,0.250,0.191,0.147,0.127,0.111,0.1005,0.104,0.1092,0.1068,0.0985,0.0848,0.0598,0.0391,0.0238,0.0143,0.0066,0.0043,0.0022,0.0003],
  [0.026,0.069,0.136,0.227,0.314,0.381,0.416,0.431,0.402,0.322,0.249,0.189,0.144,0.124,0.1085,0.1010,0.1048,0.1098,0.1072,0.0992,0.0851,0.0602,0.0389,0.0234,0.0139,0.0062,0.0041,0.0020,0.0003]
];
const p4Red = [
  [0.026,0.069,0.137,0.228,0.316,0.384,0.419,0.434,0.404,0.324,0.250,0.189,0.144,0.124,0.1085,0.1018,0.1052,0.1098,0.1072,0.0992,0.0850,0.0598,0.0388,0.0234,0.0139,0.0062,0.0039,0.0019,0.0003],
  [0.027,0.070,0.138,0.229,0.316,0.384,0.420,0.432,0.402,0.322,0.249,0.190,0.145,0.125,0.1092,0.1020,0.1055,0.1100,0.1070,0.0990,0.0848,0.0600,0.0390,0.0235,0.0140,0.0063,0.0040,0.0020,0.0003],
  [0.026,0.068,0.136,0.227,0.314,0.382,0.417,0.430,0.401,0.323,0.251,0.191,0.146,0.126,0.1095,0.1014,0.1050,0.1095,0.1069,0.0989,0.0849,0.0601,0.0391,0.0236,0.0141,0.0064,0.0040,0.0020,0.0003],
  [0.026,0.069,0.137,0.228,0.315,0.383,0.418,0.433,0.403,0.323,0.250,0.190,0.145,0.125,0.1090,0.1016,0.1050,0.1096,0.1070,0.0990,0.0850,0.0600,0.0390,0.0235,0.0140,0.0063,0.0040,0.0020,0.0003]
];

// ---- layout (page coordinates of the 3600 x 5400 picture) ----
const width = 3600;
const height = 5400;
const panelLeft = 173;
const panelRight = 3292;
const panelH = 1058;
const panelTops = [122, 1427, 2797, 4170];
const fontTitle = 55;
const fontBase = 45.8;
const fontSmall = 36.7;

// drawing space is fixed by the viewBox and stretched onto the window
const svg = d3.select("#chart")
  .attr("viewBox", `0 0 ${width} ${height}`)
  .attr("preserveAspectRatio", "none");

svg.append("rect").attr("width", width).attr("height", height).attr("fill", "#fff");

const toPairs = ys => ys.map((v, i) => [p4X[i], v]);

const panelData = [
  [p1Green, p1Red],
  [p2Green, p2Red],
  [p3Green, p3Red],
  [p4Green.map(toPairs), p4Red.map(toPairs)]
];

panelData.forEach((series, k) => {
  const top = panelTops[k];
  const bottom = top + panelH;
  const g = svg.append("g");

  // scales with ggplot's 5% expansion
  const pts = series.flat(2);
  const xExt = d3.extent(pts, d => d[0]);
  const yMax = d3.max(pts, d => d[1]);
  const xPad = (xExt[1] - xExt[0]) * 0.05;

  const x = d3.scaleLinear()
    .domain([xExt[0] - xPad, xExt[1] + xPad])
    .range([panelLeft, panelRight]);
  const y = d3.scaleLinear()
    .domain([-0.05 * yMax, 1.05 * yMax])
    .range([bottom, top]);

  // titles
  if (subtitles[k]) {
    g.append("text").attr("x", panelLeft).attr("y", top - 102)
      .attr("font-size", fontTitle).attr("fill", "#000").text(titles[k]);
    g.append("text").attr("x", panelLeft).attr("y", top - 31)
      .attr("font-size", fontBase).attr("fill", "#000").text(subtitles[k]);
  } else {
    g.append("text").attr("x", panelLeft).attr("y", top - 35)
      .attr("font-size", fontTitle).attr("fill", "#000").text(titles[k]);
  }

  // axes (theme_minimal without grid: text only)
  const xAxis = g.append("g")
    .attr("transform", `translate(0,${bottom})`)
    .call(d3.axisBottom(x).tickValues(xTicks[k]).tickFormat(d3.format(xTickFormats[k])).tickSize(0).tickPadding(22));
  const yAxis = g.append("g")
    .attr("transform", `translate(${panelLeft},0)`)
    .call(d3.axisLeft(y).tickValues(yTicks[k]).tickFormat(d3.format(".1f")).tickSize(0).tickPadding(22));
  [xAxis, yAxis].forEach(a => {
    a.select(".domain").remove();
    a.attr("font-family", null).attr("font-size", fontSmall).style("color", "#4D4D4D");
  });

  // axis titles
  const xt = g.append("text")
    .attr("x", (panelLeft + panelRight) / 2)
    .attr("y", bottom + 101)
    .attr("text-anchor", "middle")
    .attr("font-size", fontBase)
    .attr("fill", "#000");
  xt.append("tspan").text("log");
  xt.append("tspan").attr("dy", 12).attr("font-size", 33).text("2");
  xt.append("tspan").attr("dy", -12).text("(Intensity)");

  g.append("text")
    .attr("transform", `translate(83,${(top + bottom) / 2}) rotate(-90)`)
    .attr("text-anchor", "middle")
    .attr("font-size", fontBase)
    .attr("fill", "#000")
    .text("Density");

  // density curves: all green first, red on top
  const line = d3.line()
    .x(d => x(d[0]))
    .y(d => y(d[1]))
    .curve(d3.curveMonotoneX);

  series.forEach((curves, c) => {
    g.append("g").selectAll("path")
      .data(curves)
      .join("path")
      .attr("d", line)
      .attr("fill", "none")
      .attr("stroke", channelColors[c])
      .attr("stroke-width", 1.9);
  });

  // legend
  const cy = (top + bottom) / 2;
  const lg = g.append("g");
  lg.append("text").attr("x", 3336).attr("y", cy - 69)
    .attr("font-size", fontBase).attr("fill", "#000").text("Channel");
  channels.forEach((name, i) => {
    lg.append("rect")
      .attr("x", 3336).attr("y", cy - 40 + i * 72)
      .attr("width", 68).attr("height", 69)
      .attr("fill", "none")
      .attr("stroke", channelColors[i])
      .attr("stroke-width", 2.2);
    lg.append("text")
      .attr("x", 3430).attr("y", cy + 11 + i * 70)
      .attr("font-size", fontSmall).attr("fill", "#000")
      .text(name);
  });
});
</script>
</body>
</html>
